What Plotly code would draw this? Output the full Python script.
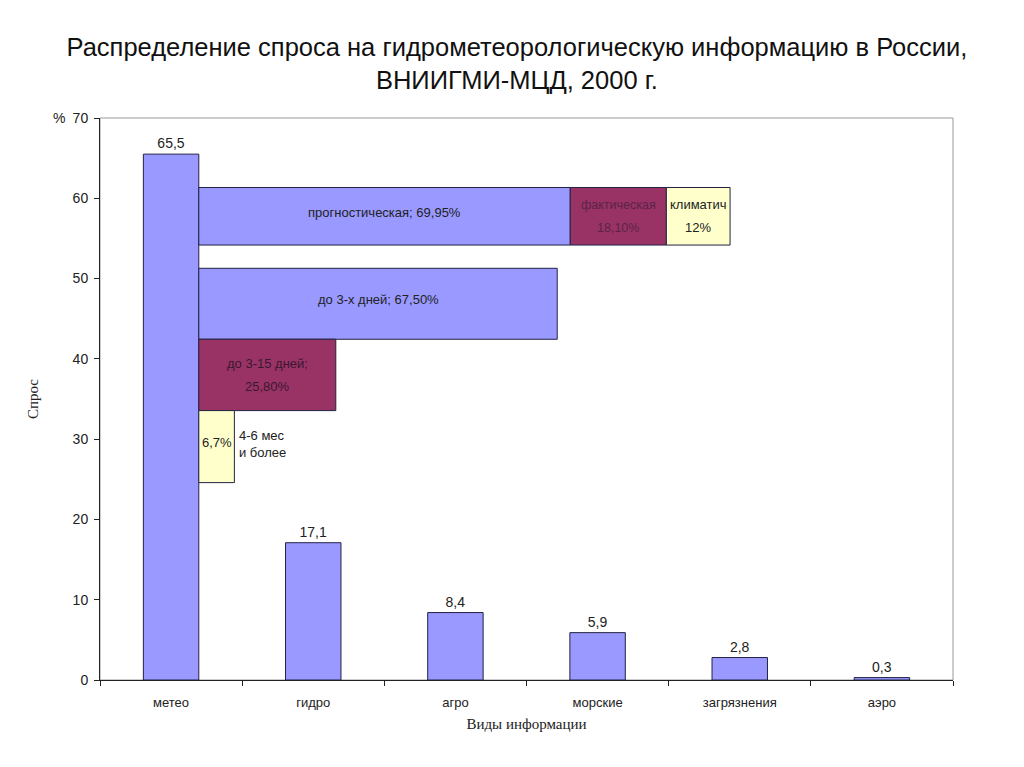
import plotly.graph_objects as go

# ---- data ----
categories = ["метео", "гидро", "агро", "морские", "загрязнения", "аэро"]
demand = [65.5, 17.1, 8.4, 5.9, 2.8, 0.3]

# breakdown of "метео" (percent of meteo demand)
row1_labels = ["прогностическая; 69,95%", "фактическая<br>18,10%", "климатич<br>12%"]
row1_values = [69.95, 18.10, 12.0]
row2_label = "до 3-х дней; 67,50%"
row2_value = 67.50
row3_label = "до 3-15 дней;<br>25,80%"
row3_value = 25.80
row4_label = "6,7%"
row4_value = 6.7
row4_note = "4-6 мес<br>и более"

# ---- layout constants ----
W, H = 1024, 767
OFF = 8  # page offset of the figure
ml, mr, mt, mb = 100 - OFF, 71 + OFF, 118 - OFF, 87 + OFF
plot_w = W - ml - mr
bar_w = 0.39
cat_px = plot_w / len(categories)
edge_px = (0.5 + bar_w / 2) * cat_px
pct_px = 5.31
pct_range = [-edge_px / pct_px, (plot_w - edge_px) / pct_px]

# row vertical placement (in y units)
row_y = [57.76, 46.86, 38.0, 29.07]
row_h = [7.17, 8.84, 8.89, 8.97]
line_gap = 2.85      # vertical spacing of two-line labels (y units)
single_lift = 0.5    # single-line labels sit slightly above centre

BLUE = "#9999FF"
MAROON = "#993366"
YELLOW = "#FFFFCC"
EDGE = "#222244"
FONT = "Arial, Liberation Sans, sans-serif"
SERIF = "Times New Roman, Liberation Serif, serif"

fig = go.Figure()

fig.add_trace(go.Bar(
    x=categories, y=demand, width=bar_w,
    marker=dict(color=BLUE, line=dict(color=EDGE, width=1)),
    text=[f"{v:.1f}".replace(".", ",") for v in demand],
    textposition="outside", cliponaxis=False,
    textfont=dict(family=FONT, size=14, color="#222"),
    showlegend=False, hoverinfo="skip",
))

def hbar(length, base, y, h, color, label, tcolor, fsize=13):
    fig.add_trace(go.Bar(
        orientation="h", x=[length], base=[base], y=[y], width=[h],
        xaxis="x2", yaxis="y",
        marker=dict(color=color, line=dict(color=EDGE, width=1)),
        showlegend=False, hoverinfo="skip",
    ))
    lines = label.split("<br>")
    xc = base + length / 2
    if len(lines) == 1:
        ys = [y + single_lift]
    else:
        ys = [y + line_gap / 2, y - line_gap / 2]
    for ln, yy in zip(lines, ys):
        fig.add_annotation(x=xc, y=yy, xref="x2", yref="y", text=ln, showarrow=False,
                           font=dict(family=FONT, size=fsize, color=tcolor))

base = 0
for lab, val, col, tc, fs in zip(row1_labels, row1_values, [BLUE, MAROON, YELLOW],
                                 ["#222", "#5a2448", "#222"], [13, 12.5, 13]):
    hbar(val, base, row_y[0], row_h[0], col, lab, tc, fs)
    base += val
hbar(row2_value, 0, row_y[1], row_h[1], BLUE, row2_label, "#222")
hbar(row3_value, 0, row_y[2], row_h[2], MAROON, row3_label, "#3a1830")
hbar(row4_value, 0, row_y[3], row_h[3], YELLOW, row4_label, "#222")

fig.add_annotation(x=row4_value, y=row_y[3] + 0.35, xref="x2", yref="y",
                   text=row4_note, showarrow=False, xanchor="left", xshift=3,
                   align="left", font=dict(family=FONT, size=13, color="#222"))
fig.add_annotation(x=0, y=70, xref="paper", yref="y", text="%", showarrow=False,
                   xanchor="right", xshift=-33, font=dict(family=FONT, size=14, color="#222"))

# grey frame (top/right)
fig.add_shape(type="rect", xref="paper", yref="paper", x0=0, y0=0, x1=1, y1=1,
              line=dict(color="#999999", width=1), layer="below")

fig.update_layout(
    width=W, height=H,
    margin=dict(l=ml, r=mr, t=mt, b=mb),
    paper_bgcolor="white", plot_bgcolor="white",
    barmode="overlay",
    title=dict(text="Распределение спроса на гидрометеорологическую информацию в России,<br>ВНИИГМИ-МЦД, 2000 г.",
               x=0.497, xanchor="center", y=0.937, yanchor="top",
               font=dict(family=FONT, size=25.5, color="#111")),
    xaxis=dict(type="category", range=[-0.5, len(categories) - 0.5],
               showline=True, linecolor="#222", linewidth=1,
               ticks="outside", tickson="boundaries", ticklen=5, tickcolor="#222",
               ticklabelstandoff=10,
               tickfont=dict(family=FONT, size=13, color="#222"),
               title=dict(text="Виды информации", font=dict(family=SERIF, size=15, color="#222"), standoff=9),
               showgrid=False, zeroline=False),
    xaxis2=dict(overlaying="x", range=pct_range, visible=False, showgrid=False),
    yaxis=dict(range=[0, 70], dtick=10, showline=True, linecolor="#222", linewidth=1,
               ticks="outside", ticklen=5, tickcolor="#222",
               ticklabelstandoff=3,
               tickfont=dict(family=FONT, size=14, color="#222"),
               title=dict(text="Спрос", font=dict(family=SERIF, size=15, color="#222"), standoff=30),
               showgrid=False, zeroline=False),
)

fig.write_html("out.html")
